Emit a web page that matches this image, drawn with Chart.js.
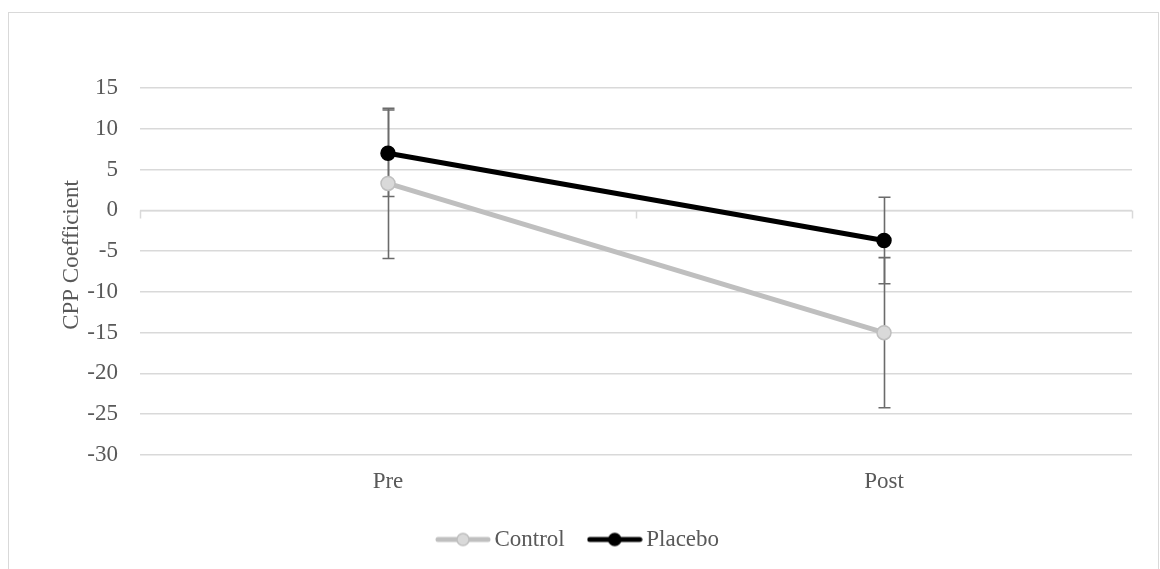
<!DOCTYPE html>
<html lang="en">
  <head>
    <meta charset="UTF-8" />
    <script src="https://cdn.jsdelivr.net/npm/chart.js@4.4.1/dist/chart.umd.min.js"></script>
    <title>CPP Coefficient</title>
    <style>
      body { margin: 0; background: #fff; }
    </style>
  </head>
  <body>
    <canvas id="chart" width="1160" height="569"></canvas>
    <script>
      const categories = ["Pre", "Post"];
      const controlValues = [3.3, -15.0];
      const controlErrors = [9.2, 9.2];
      const placeboValues = [7.0, -3.7];
      const placeboErrors = [5.3, 5.3];
      const yTicks = [15, 10, 5, 0, -5, -10, -15, -20, -25, -30];
      const yTitle = "CPP Coefficient";

      const FONT = "'Liberation Serif', 'Times New Roman', serif";
      const TEXT = "#595959";
      const GRID = "#d9d9d9";

      // little line+marker picture for the legend
      function legendIcon(lineColor, fill, border) {
        let c = document.createElement("canvas");
        c.width = 56;
        c.height = 16;
        let g = c.getContext("2d");
        g.strokeStyle = lineColor;
        g.lineWidth = 5;
        g.lineCap = "round";
        g.beginPath();
        g.moveTo(3, 8);
        g.lineTo(53, 8);
        g.stroke();
        g.beginPath();
        g.arc(28, 8, 6, 0, Math.PI * 2);
        g.fillStyle = fill;
        g.fill();
        g.lineWidth = 1.5;
        g.strokeStyle = border;
        g.stroke();
        return c;
      }

      const frame = {
        id: "frame",
        beforeDraw(chart) {
          let ctx = chart.ctx;
          ctx.save();
          ctx.strokeStyle = GRID;
          ctx.lineWidth = 1;
          ctx.strokeRect(8.5, 12.5, 1150, 600);
          ctx.restore();
        },
        beforeDatasetsDraw(chart) {
          // category axis crossing at zero, with tick marks between categories
          let ctx = chart.ctx;
          let x = chart.scales.x;
          let y = chart.scales.y;
          let y0 = Math.round(y.getPixelForValue(0)) + 0.5;
          let a = chart.chartArea;
          ctx.save();
          ctx.strokeStyle = GRID;
          ctx.lineWidth = 1.5;
          ctx.beginPath();
          ctx.moveTo(a.left, y0);
          ctx.lineTo(a.right, y0);
          let step = (a.right - a.left) / categories.length;
          for (let i = 0; i <= categories.length; i++) {
            let tx = Math.round(a.left + step * i) + 0.5;
            ctx.moveTo(tx, y0);
            ctx.lineTo(tx, y0 + 8);
          }
          ctx.stroke();

          // error bars
          ctx.strokeStyle = "#6b6b6b";
          ctx.lineWidth = 1.6;
          chart.data.datasets.forEach((ds) => {
            ds.data.forEach((v, i) => {
              let e = ds.errors[i];
              let px = Math.round(x.getPixelForValue(i)) + 0.5;
              let top = y.getPixelForValue(v + e);
              let bot = y.getPixelForValue(v - e);
              ctx.beginPath();
              ctx.moveTo(px, top);
              ctx.lineTo(px, bot);
              ctx.moveTo(px - 6, top);
              ctx.lineTo(px + 6, top);
              ctx.moveTo(px - 6, bot);
              ctx.lineTo(px + 6, bot);
              ctx.stroke();
            });
          });
          ctx.restore();
        },
        afterDraw(chart) {
          // axis title, sits a bit above the plot centre like the original
          let ctx = chart.ctx;
          ctx.save();
          ctx.translate(72, 255);
          ctx.rotate(-Math.PI / 2);
          ctx.font = "23px " + FONT;
          ctx.fillStyle = TEXT;
          ctx.textAlign = "center";
          ctx.textBaseline = "middle";
          ctx.fillText(yTitle, 0, 0);
          ctx.restore();
        },
      };

      let ctx = document.getElementById("chart").getContext("2d");
      let myChart = new Chart(ctx, {
        type: "line",
        data: {
          labels: categories,
          datasets: [
            {
              label: "Control",
              data: controlValues,
              errors: controlErrors,
              icon: legendIcon("#bfbfbf", "#d9d9d9", "#bfbfbf"),
              borderColor: "#bfbfbf",
              borderWidth: 5,
              pointRadius: 7,
              pointBackgroundColor: "#d9d9d9",
              pointBorderColor: "#bfbfbf",
              pointBorderWidth: 1.5,
            },
            {
              label: "Placebo",
              data: placeboValues,
              errors: placeboErrors,
              icon: legendIcon("#000000", "#000000", "#000000"),
              borderColor: "#000000",
              borderWidth: 5,
              pointRadius: 7,
              pointBackgroundColor: "#000000",
              pointBorderColor: "#000000",
              pointBorderWidth: 1.5,
            },
          ],
        },
        options: {
          responsive: false,
          animation: false,
          events: [],
          layout: { padding: { left: 30, right: 28, top: 88, bottom: 8 } },
          scales: {
            x: {
              offset: true,
              grid: { display: false },
              border: { display: false },
              ticks: { color: TEXT, font: { family: FONT, size: 23 }, padding: 5 },
              afterFit(scale) {
                scale.height = 43;
              },
            },
            y: {
              min: -30,
              max: 15,
              afterBuildTicks(scale) {
                scale.ticks = yTicks.map((v) => ({ value: v }));
              },
              grid: { color: GRID, lineWidth: 1.5, drawTicks: false },
              border: { display: false },
              ticks: { color: TEXT, font: { family: FONT, size: 23 }, padding: 22 },
              afterFit(scale) {
                scale.width = 110;
              },
            },
          },
          plugins: {
            legend: {
              position: "bottom",
              labels: {
                color: TEXT,
                font: { family: FONT, size: 23 },
                usePointStyle: true,
                pointStyleWidth: 40,
                boxHeight: 16,
                padding: 30,
                generateLabels(chart) {
                  return chart.data.datasets.map((ds, i) => ({
                    text: ds.label,
                    pointStyle: ds.icon,
                    fontColor: TEXT,
                    datasetIndex: i,
                    lineWidth: 0,
                  }));
                },
              },
            },
            tooltip: { enabled: false },
          },
        },
        plugins: [frame],
      });
    </script>
  </body>
</html>
